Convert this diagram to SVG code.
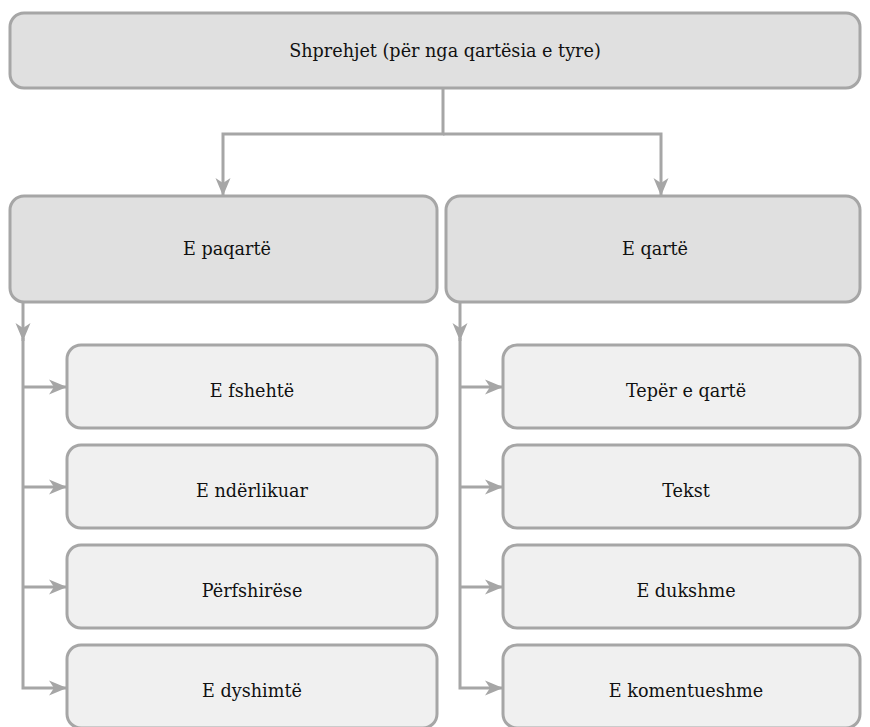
<svg xmlns="http://www.w3.org/2000/svg" width="870" height="727" viewBox="0 0 870 727">
  <style>
    .box { stroke: #a6a6a6; stroke-width: 3; }
    .lvl1 { fill: #e0e0e0; }
    .lvl2 { fill: #f0f0f0; }
    .lbl { font-family: "DejaVu Serif", "Liberation Serif", serif; font-size: 17.6px; fill: #111111; text-anchor: middle; }
    .wire { fill: none; stroke: #a6a6a6; stroke-width: 3; }
    .head { fill: #a6a6a6; stroke: none; }
  </style>
  <defs>
    <marker id="arrow" markerUnits="userSpaceOnUse" markerWidth="20" markerHeight="16" viewBox="-19 -8 20 16" refX="0" refY="0" orient="auto">
      <path class="head" d="M0,0 L-18,-7.5 L-13,0 L-18,7.5 Z"/>
    </marker>
  </defs>

  <!-- connectors -->
  <g id="connectors">
    <path class="wire" d="M443,88 V134 H223 V196" marker-end="url(#arrow)"/>
    <path class="wire" d="M443,134 H661 V196" marker-end="url(#arrow)"/>

    <!-- left branch trunk -->
    <path class="wire" d="M23,302 V341" marker-end="url(#arrow)"/>
    <path class="wire" d="M23,338 V688 H67" marker-end="url(#arrow)"/>
    <path class="wire" d="M23,387 H67" marker-end="url(#arrow)"/>
    <path class="wire" d="M23,487 H67" marker-end="url(#arrow)"/>
    <path class="wire" d="M23,587 H67" marker-end="url(#arrow)"/>

    <!-- right branch trunk -->
    <path class="wire" d="M460,302 V341" marker-end="url(#arrow)"/>
    <path class="wire" d="M460,338 V688 H503" marker-end="url(#arrow)"/>
    <path class="wire" d="M460,387 H503" marker-end="url(#arrow)"/>
    <path class="wire" d="M460,487 H503" marker-end="url(#arrow)"/>
    <path class="wire" d="M460,587 H503" marker-end="url(#arrow)"/>
  </g>

  <g id="root">
    <rect class="box lvl1" x="10" y="13" width="850" height="75" rx="14"/>
    <text class="lbl" x="445" y="57">Shprehjet (për nga qartësia e tyre)</text>
  </g>

  <g id="paqarte">
    <rect class="box lvl1" x="10" y="196" width="427" height="106" rx="14"/>
    <text class="lbl" x="227" y="255">E paqartë</text>
  </g>
  <g id="qarte">
    <rect class="box lvl1" x="446" y="196" width="414" height="106" rx="14"/>
    <text class="lbl" x="655" y="255">E qartë</text>
  </g>

  <g id="fshehte">
    <rect class="box lvl2" x="67" y="345" width="370" height="83" rx="14"/>
    <text class="lbl" x="252" y="397">E fshehtë</text>
  </g>
  <g id="nderlikuar">
    <rect class="box lvl2" x="67" y="445" width="370" height="83" rx="14"/>
    <text class="lbl" x="252" y="497">E ndërlikuar</text>
  </g>
  <g id="perfshirese">
    <rect class="box lvl2" x="67" y="545" width="370" height="83" rx="14"/>
    <text class="lbl" x="252" y="597">Përfshirëse</text>
  </g>
  <g id="dyshimte">
    <rect class="box lvl2" x="67" y="645" width="370" height="83" rx="14"/>
    <text class="lbl" x="252" y="697">E dyshimtë</text>
  </g>

  <g id="teper-qarte">
    <rect class="box lvl2" x="503" y="345" width="357" height="83" rx="14"/>
    <text class="lbl" x="686" y="397">Tepër e qartë</text>
  </g>
  <g id="tekst">
    <rect class="box lvl2" x="503" y="445" width="357" height="83" rx="14"/>
    <text class="lbl" x="686" y="497">Tekst</text>
  </g>
  <g id="dukshme">
    <rect class="box lvl2" x="503" y="545" width="357" height="83" rx="14"/>
    <text class="lbl" x="686" y="597">E dukshme</text>
  </g>
  <g id="komentueshme">
    <rect class="box lvl2" x="503" y="645" width="357" height="83" rx="14"/>
    <text class="lbl" x="686" y="697">E komentueshme</text>
  </g>
</svg>
